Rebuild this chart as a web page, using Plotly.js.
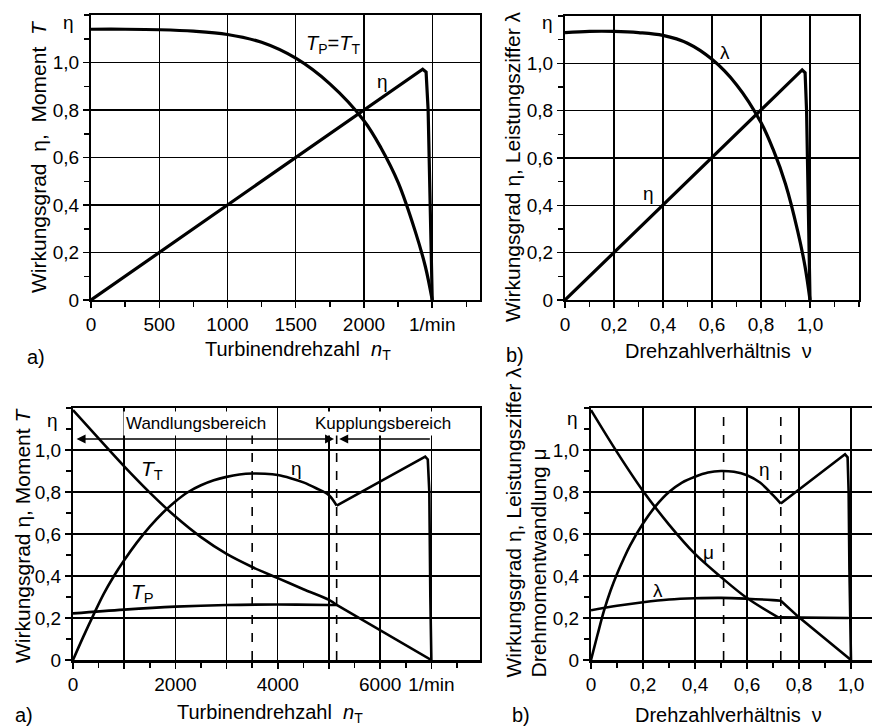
<!DOCTYPE html>
<html><head><meta charset="utf-8">
<script src="https://cdn.plot.ly/plotly-3.0.1.min.js"></script>
<style>html,body{margin:0;padding:0;background:#fff;}#chart{width:872px;height:727px;}</style>
</head><body><div id="chart"></div>
<script>
// ---------- Data: top-left (a) Kupplung, Turbinendrehzahl ----------
const TL_n_eta = [0, 2430, 2455, 2470, 2485, 2500];
const TL_eta   = [0, 0.972, 0.96, 0.8, 0.4, 0];
const TL_n_T   = [0, 250, 500, 750, 1000, 1250, 1500, 1750, 2000, 2125, 2250, 2375, 2450, 2500];
const TL_T     = [1.14, 1.14, 1.138, 1.132, 1.118, 1.085, 1.018, 0.91, 0.755, 0.64, 0.495, 0.29, 0.14, 0];
const TL_xticks = [0, 500, 1000, 1500, 2000, 2500];
const TL_xlabels = ['0', '500', '1000', '1500', '2000', '1/min'];

// ---------- Data: top-right (b) Kupplung, Drehzahlverhältnis ----------
const TR_nu_eta = [0, 0.968, 0.98, 0.986, 0.993, 1.0];
const TR_eta    = [0, 0.972, 0.96, 0.8, 0.4, 0];
const TR_nu_lam = [0, 0.1, 0.2, 0.3, 0.4, 0.5, 0.6, 0.7, 0.8, 0.85, 0.9, 0.95, 0.98, 1.0];
const TR_lam    = [1.13, 1.135, 1.135, 1.13, 1.118, 1.085, 1.017, 0.91, 0.75, 0.635, 0.49, 0.29, 0.14, 0];
const NU_ticks  = [0, 0.2, 0.4, 0.6, 0.8, 1.0];
const NU_labels = ['0', '0,2', '0,4', '0,6', '0,8', '1,0'];

// ---------- Data: bottom-left (a) Wandler, Turbinendrehzahl ----------
const BL_n_TT = [0, 500, 1000, 1500, 2000, 2500, 3000, 3500, 4000, 4500, 5000, 5150, 5500, 6000, 6500, 7000];
const BL_TT   = [1.19, 1.055, 0.922, 0.797, 0.683, 0.585, 0.505, 0.443, 0.39, 0.337, 0.286, 0.262, 0.212, 0.142, 0.071, 0];
const BL_n_TP = [0, 1000, 2000, 3000, 4000, 5000, 5150];
const BL_TP   = [0.222, 0.24, 0.254, 0.262, 0.264, 0.262, 0.262];
const BL_n_eta = [0, 200, 400, 600, 800, 1000, 1250, 1500, 1750, 2000, 2250, 2500, 2750, 3000, 3250, 3500, 3750, 4000, 4250, 4500, 4750, 5000, 5150, 6880, 6930, 6960, 6980, 7000];
const BL_eta   = [0, 0.11, 0.215, 0.315, 0.40, 0.475, 0.56, 0.635, 0.70, 0.755, 0.80, 0.832, 0.856, 0.872, 0.883, 0.888, 0.887, 0.881, 0.866, 0.846, 0.818, 0.785, 0.735, 0.968, 0.955, 0.8, 0.3, 0];
const BL_marks  = [0, 3500, 5150, 7000];
const BL_xticks = [0, 1000, 2000, 3000, 4000, 5000, 6000, 7000];
const BL_xlabels = ['0', '', '2000', '', '4000', '', '6000', '1/min'];

// ---------- Data: bottom-right (b) Wandler, Drehzahlverhältnis ----------
const BR_nu_eta = [0, 0.025, 0.05, 0.075, 0.1, 0.125, 0.15, 0.2, 0.25, 0.3, 0.35, 0.4, 0.45, 0.5, 0.55, 0.6, 0.65, 0.7, 0.73, 0.977, 0.987, 0.991, 0.994, 1.0];
const BR_eta    = [0, 0.12, 0.235, 0.33, 0.41, 0.48, 0.545, 0.65, 0.735, 0.8, 0.845, 0.873, 0.893, 0.9, 0.896, 0.88, 0.845, 0.785, 0.745, 0.98, 0.965, 0.8, 0.43, 0];
const BR_nu_mu  = [0, 0.1, 0.2, 0.3, 0.4, 0.5, 0.6, 0.72, 0.99];
const BR_mu     = [1.19, 0.99, 0.805, 0.645, 0.505, 0.395, 0.295, 0.203, 0.2];
const BR_nu_lam = [0, 0.1, 0.2, 0.3, 0.4, 0.5, 0.6, 0.7, 0.73, 0.8, 1.0];
const BR_lam    = [0.237, 0.258, 0.275, 0.288, 0.294, 0.296, 0.292, 0.285, 0.282, 0.203, 0];
const BR_marks  = [0, 0.51, 0.73, 1.0];
const MARK_labels = ['A', 'M', 'K', 'D'];

const Y_ticks  = [0, 0.2, 0.4, 0.6, 0.8, 1.0];
const Y_labels = ['0', '0,2', '0,4', '0,6', '0,8', '1,0'];

// ---------- helpers ----------
const W = 872, H = 727;
const PX = x => x / W, PY = y => 1 - y / H;
const FONT = 'Liberation Sans, Arial, Helvetica, sans-serif';
const BLK = '#000';

function line(x, y, xa, ya, w, opts) {
  opts = opts || {};
  const ln = {color: BLK, width: w || 3, dash: opts.dash || 'solid', shape: opts.spline ? 'spline' : 'linear'};
  if (opts.spline) ln.smoothing = 1;
  return {x: x, y: y, xaxis: xa, yaxis: ya, type: 'scatter', mode: 'lines', line: ln, hoverinfo: 'skip', cliponaxis: true};
}
// split a series at a kink: smooth part up to index k, straight part from k
function kinked(x, y, k, xa, ya, w) {
  return [line(x.slice(0, k + 1), y.slice(0, k + 1), xa, ya, w, {spline: true}),
          line(x.slice(k), y.slice(k), xa, ya, w)];
}

function xax(domain, range, anchor, tickvals, ticktext, minorDt, lw) {
  return {domain: domain, range: range, anchor: anchor, tickmode: 'array', tickvals: tickvals, ticktext: ticktext,
          showline: true, linecolor: BLK, linewidth: lw || 2, mirror: true,
          showgrid: true, gridcolor: BLK, gridwidth: 1.4, zeroline: false,
          ticks: 'outside', ticklen: 6, tickwidth: 1.5, tickcolor: BLK,
          tickfont: {family: FONT, size: 19, color: BLK},
          minor: {tickmode: 'linear', tick0: 0, dtick: minorDt, ticks: 'outside', ticklen: 5, tickwidth: 1.5, tickcolor: BLK, showgrid: false},
          fixedrange: true};
}
function yax(domain, anchor, mirror) {
  return {domain: domain, range: [0, 1.2], anchor: anchor, tickmode: 'array', tickvals: Y_ticks, ticktext: Y_labels,
          showline: true, linecolor: BLK, linewidth: 2, mirror: mirror,
          showgrid: true, gridcolor: BLK, gridwidth: 1.4, zeroline: false,
          ticks: 'outside', ticklen: 6, tickwidth: 1.5, tickcolor: BLK,
          tickfont: {family: FONT, size: 19, color: BLK},
          minor: {tickmode: 'linear', tick0: 0, dtick: 0.1, ticks: 'outside', ticklen: 5, tickwidth: 1.5, tickcolor: BLK, showgrid: false},
          fixedrange: true};
}

// ---------- traces ----------
const traces = [].concat(
  [line(TL_n_T, TL_T, 'x', 'y', 3.2, {spline: true}),
   line(TL_n_eta, TL_eta, 'x', 'y', 3.2),
   line(TR_nu_lam, TR_lam, 'x2', 'y2', 3.2, {spline: true}),
   line(TR_nu_eta, TR_eta, 'x2', 'y2', 3.2),
   line([BL_marks[1], BL_marks[1]], [0, 1.2], 'x3', 'y3', 1.6, {dash: 'dash'}),
   line([BL_marks[2], BL_marks[2]], [0, 1.2], 'x3', 'y3', 1.6, {dash: 'dash'})],
  kinked(BL_n_TT, BL_TT, 11, 'x3', 'y3', 2.6),
  [line(BL_n_TP, BL_TP, 'x3', 'y3', 2.6, {spline: true})],
  kinked(BL_n_eta, BL_eta, 22, 'x3', 'y3', 2.6),
  [line([BR_marks[1], BR_marks[1]], [0, 1.2], 'x4', 'y4', 1.6, {dash: 'dash'}),
   line([BR_marks[2], BR_marks[2]], [0, 1.2], 'x4', 'y4', 1.6, {dash: 'dash'})],
  kinked(BR_nu_mu, BR_mu, 7, 'x4', 'y4', 2.6),
  kinked(BR_nu_lam, BR_lam, 8, 'x4', 'y4', 2.6),
  kinked(BR_nu_eta, BR_eta, 18, 'x4', 'y4', 2.6)
);

// ---------- annotations ----------
function ptxt(text, x, y, size, opts) {
  return Object.assign({text: text, xref: 'paper', yref: 'paper', x: PX(x), y: PY(y), showarrow: false,
          xanchor: 'center', yanchor: 'middle', font: {family: FONT, size: size || 19, color: BLK}}, opts || {});
}
function dtxt(text, x, y, xr, yr, size, opts) {
  return Object.assign({text: text, xref: xr, yref: yr, x: x, y: y, showarrow: false,
          xanchor: 'center', yanchor: 'middle', font: {family: FONT, size: size || 19, color: BLK}}, opts || {});
}
const NB = '\u00a0';
const ann = [
  // y-axis titles
  ptxt('Wirkungsgrad' + NB + NB + 'η,' + NB + NB + 'Moment' + NB + NB + '<i>T</i>', 38, 157, 21, {textangle: -90}),
  ptxt('Wirkungsgrad η, Leistungsziffer λ', 512, 167, 21, {textangle: -90}),
  ptxt('Wirkungsgrad η, Moment <i>T</i>', 22, 536, 21, {textangle: -90}),
  ptxt('Wirkungsgrad η, Leistungsziffer λ', 513, 680, 21, {textangle: -90, yanchor: 'bottom'}),
  ptxt('Drehmomentwandlung μ', 538, 680, 21, {textangle: -90, yanchor: 'bottom'}),
  // η at top of y axes
  ptxt('η', 68, 22, 19), ptxt('η', 547, 23, 19), ptxt('η', 52, 420, 19), ptxt('η', 572, 418, 19),
  // x titles and panel letters
  ptxt('a)', 36, 357, 20), ptxt('Turbinendrehzahl' + NB + NB + '<i>n</i><sub>T</sub>', 298, 350, 20),
  ptxt('b)', 515, 355, 20), ptxt('Drehzahlverhältnis' + NB + NB + 'ν', 718, 351, 20),
  ptxt('a)', 24, 715, 20), ptxt('Turbinendrehzahl' + NB + NB + '<i>n</i><sub>T</sub>', 270, 713, 20),
  ptxt('b)', 521, 715, 20), ptxt('Drehzahlverhältnis' + NB + NB + 'ν', 728, 715, 20),
  // curve labels top-left
  dtxt('<i>T</i><sub>P</sub>=<i>T</i><sub>T</sub>', 1773, 1.075, 'x', 'y', 20),
  dtxt('η', 2139, 0.92, 'x', 'y', 19),
  // top-right
  dtxt('λ', 0.653, 1.046, 'x2', 'y2', 19),
  dtxt('η', 0.339, 0.452, 'x2', 'y2', 19),
  // bottom-left
  dtxt('<i>T</i><sub>T</sub>', 1543, 0.905, 'x3', 'y3', 21),
  dtxt('η', 4374, 0.914, 'x3', 'y3', 19),
  dtxt('<i>T</i><sub>P</sub>', 1367, 0.319, 'x3', 'y3', 21),
  // bottom-right
  dtxt('η', 0.669, 0.905, 'x4', 'y4', 19),
  dtxt('μ', 0.45, 0.514, 'x4', 'y4', 19),
  dtxt('λ', 0.258, 0.333, 'x4', 'y4', 19),
  // range boxes
  dtxt('Wandlungsbereich', 2400, 1.128, 'x3', 'y3', 17, {bgcolor: '#fff', borderpad: 2}),
  dtxt('Kupplungsbereich', 6060, 1.128, 'x3', 'y3', 17, {bgcolor: '#fff', borderpad: 2}),
  // arrows
  {xref: 'x3', yref: 'y3', axref: 'x3', ayref: 'y3', x: BL_marks[2] - 50, y: 1.052, ax: BL_marks[0] + 40, ay: 1.052,
   text: '', showarrow: true, arrowside: 'end+start', arrowhead: 2, startarrowhead: 2, arrowsize: 1.2, startarrowsize: 1.2, arrowwidth: 1.5, arrowcolor: BLK},
  {xref: 'x3', yref: 'y3', axref: 'x3', ayref: 'y3', x: BL_marks[2] + 50, y: 1.052, ax: BL_marks[3], ay: 1.052,
   text: '', showarrow: true, arrowside: 'end', arrowhead: 2, arrowsize: 1.2, arrowwidth: 1.5, arrowcolor: BLK}
];
for (let i = 0; i < 4; i++) {
  ann.push(dtxt(MARK_labels[i], BL_marks[i], 1.272, 'x3', 'y3', 19));
  ann.push(dtxt(MARK_labels[i], BR_marks[i], 1.272, 'x4', 'y4', 19));
}

const layout = {
  width: W, height: H, margin: {l: 0, r: 0, t: 0, b: 0}, showlegend: false,
  paper_bgcolor: '#fff', plot_bgcolor: '#fff', hovermode: false,
  font: {family: FONT, size: 19, color: BLK},
  xaxis:  xax([PX(91), PX(480)], [0, 2850], 'y', TL_xticks, TL_xlabels, 250),
  yaxis:  yax([PY(300), PY(15)], 'x', true),
  xaxis2: xax([PX(565), PX(859)], [0, 1.2], 'y2', NU_ticks, NU_labels, 0.1),
  yaxis2: yax([PY(300), PY(16)], 'x2', true),
  xaxis3: xax([PX(73), PX(480)], [0, 7950], 'y3', BL_xticks, BL_xlabels, 500, 2.5),
  yaxis3: yax([PY(660), PY(408)], 'x3', true),
  xaxis4: xax([PX(591), 1], [0, 1.0808], 'y4', NU_ticks, NU_labels, 0.1, 2.5),
  yaxis4: yax([PY(660), PY(408)], 'x4', false),
  annotations: ann
};

Plotly.newPlot('chart', traces, layout, {staticPlot: true, displayModeBar: false});
</script></body></html>
